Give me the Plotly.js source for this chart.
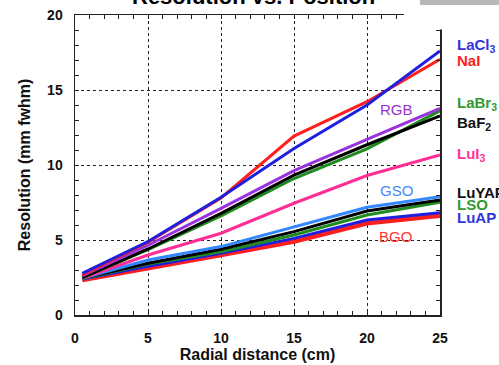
<!DOCTYPE html>
<html>
<head>
<meta charset="utf-8">
<script src="https://cdn.plot.ly/plotly-3.0.1.min.js"></script>
<style>html,body{margin:0;padding:0;background:#fff;}#chart{width:499px;height:365px;}</style>
</head>
<body>
<div id="chart"></div>
<script>
// Data
const radial = [0.5, 5, 10, 15, 20, 25];
const LaCl3 = [2.78, 4.9, 7.85, 11.1, 14.0, 17.6];
const NaI   = [2.65, 4.85, 7.8, 11.93, 14.22, 17.05];
const RGB   = [2.6, 4.65, 7.11, 9.62, 11.71, 13.78];
const BaF2  = [2.5, 4.4, 6.78, 9.33, 11.35, 13.27];
const LaBr3 = [2.5, 4.35, 6.6, 9.1, 11.08, 13.62];
const LuI3  = [2.45, 4.0, 5.45, 7.45, 9.3, 10.67];
const GSO   = [2.45, 3.67, 4.56, 5.85, 7.18, 7.89];
const LuYAP = [2.45, 3.45, 4.38, 5.56, 6.93, 7.67];
const LSO   = [2.42, 3.4, 4.22, 5.33, 6.67, 7.51];
const LuAP  = [2.4, 3.25, 4.11, 5.11, 6.33, 6.82];
const BGO   = [2.33, 3.15, 4.0, 4.89, 6.11, 6.62];

const FONT = "Liberation Sans, Arial, sans-serif";
const C = {blue:'#1f1fe0', red:'#ff1f1f', purple:'#9933dd', green:'#1e8c1e', black:'#000000', pink:'#ff2d96', lblue:'#3388ff'};

function tr(y, color, w){ return {x: radial, y: y, type:'scatter', mode:'lines', line:{color:color, width:w}, hoverinfo:'skip', showlegend:false}; }

const data = [
  tr(BGO, C.red, 4.5),
  tr(LuAP, C.blue, 3),
  tr(LSO, C.green, 3),
  tr(LuYAP, C.black, 3),
  tr(GSO, C.lblue, 3),
  tr(LuI3, C.pink, 3),
  tr(LaBr3, C.green, 3),
  tr(BaF2, C.black, 3),
  tr(RGB, C.purple, 3),
  tr(NaI, C.red, 3),
  tr(LaCl3, C.blue, 3)
];

function rl(text, y, color){
  return {text:text, xref:'paper', yref:'y', x:1.041, y:y, xanchor:'left', yanchor:'middle', showarrow:false, font:{family:FONT, size:15, weight:'bold', color:color}};
}
function il(text, x, y, color){
  return {text:text, xref:'x', yref:'y', x:x, y:y, xanchor:'center', yanchor:'middle', showarrow:false, font:{family:FONT, size:15, color:color}};
}

const axisCommon = {
  showline:true, linecolor:'#222', linewidth:1.5, mirror:'ticks',
  ticks:'inside', ticklen:4, tickcolor:'#222', tickwidth:1,
  showgrid:true, gridcolor:'#222', griddash:'dot', gridwidth:1,
  zeroline:false,
  minor:{dtick:1, ticks:'inside', ticklen:4, tickcolor:'#222', showgrid:false},
  tickfont:{family:FONT, size:14, weight:'bold', color:'#111'}
};

const layout = {
  width:499, height:365,
  margin:{l:75, r:59, t:15, b:50, pad:0},
  paper_bgcolor:'#fff', plot_bgcolor:'#fff',
  xaxis: Object.assign({}, axisCommon, {
    range:[0,25], dtick:5, tick0:0, ticklabelstandoff:10,
    title:{text:'Radial distance (cm)', font:{family:FONT, size:16, weight:'bold', color:'#111'}, standoff:3}
  }),
  yaxis: Object.assign({}, axisCommon, {
    range:[0,20], dtick:5, tick0:0, ticklabelstandoff:8,
    title:{text:'Resolution (mm fwhm)', font:{family:FONT, size:16, weight:'bold', color:'#111'}, standoff:12}
  }),
  shapes:[
    {type:'rect', xref:'paper', yref:'paper', x0:0.9014, x1:1.02, y0:0.9517, y1:1.06, fillcolor:'#fff', line:{width:0}, layer:'above'},
    {type:'rect', xref:'paper', yref:'paper', x0:0.945, x1:1.17, y0:1.0333, y1:1.06, fillcolor:'#b8b8b8', line:{width:0}, layer:'above'}
  ],
  annotations:[
    {text:'Resolution vs. Position', xref:'paper', yref:'paper', x:0.4877, y:1.06, xanchor:'center', yanchor:'middle', showarrow:false, font:{family:FONT, size:22, weight:'bold', color:'#000'}},
    rl('LaCl<sub>3</sub>', 18.0, '#3333dd'),
    rl('NaI', 17.0, '#ff2222'),
    rl('LaBr<sub>3</sub>', 14.1, '#339933'),
    rl('BaF<sub>2</sub>', 12.8, '#111111'),
    rl('LuI<sub>3</sub>', 10.7, '#ff3399'),
    rl('LuYAP', 8.2, '#111111'),
    rl('LSO', 7.4, '#339933'),
    rl('LuAP', 6.47, '#3333dd'),
    il('RGB', 21.99, 13.67, '#9933cc'),
    il('GSO', 21.99, 8.3, '#4488ff'),
    il('BGO', 21.95, 5.22, '#ff3333')
  ]
};

Plotly.newPlot('chart', data, layout, {staticPlot:true, displayModeBar:false});
</script>
</body>
</html>
